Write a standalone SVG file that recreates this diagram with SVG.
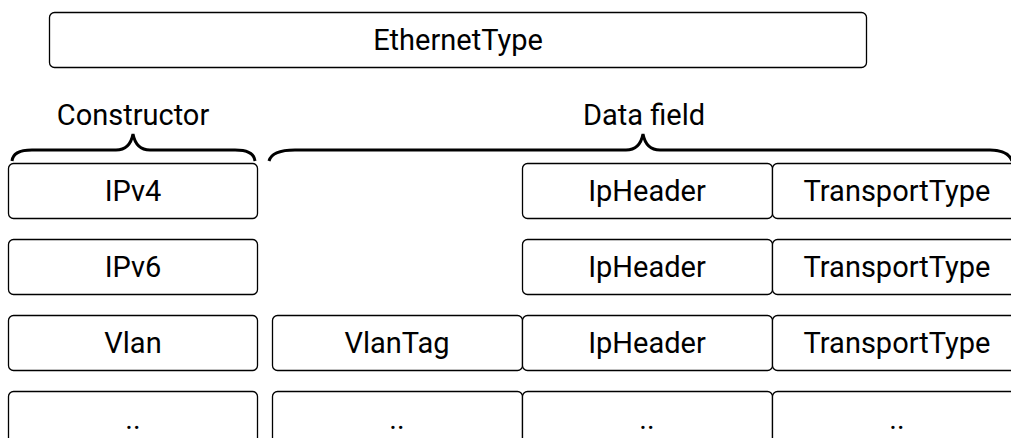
<svg xmlns="http://www.w3.org/2000/svg" width="1011" height="438" viewBox="0 0 1011 438">
<style>
.box{fill:#fff;stroke:#000;stroke-width:1.3}
.t{font-family:Roboto,"Liberation Sans",sans-serif;font-size:29px;fill:#000;text-anchor:middle;dominant-baseline:central}
.brace{fill:none;stroke:#000;stroke-width:3}
</style>
<rect width="1011" height="438" fill="#fff"/>
<g id="ethernettype"><rect class="box" x="49.5" y="12.5" width="817" height="55" rx="5"/><text class="t" x="458" y="40">EthernetType</text></g>
<g id="labels">
<text class="t" x="133" y="115">Constructor</text>
<text class="t" x="644" y="115">Data field</text>
</g>
<g id="connectors">
<path class="brace" d="M12,161 Q13,150 32,150 L116,150 Q130,150 133,134 Q136,150 150,150 L235,150 Q254,150 255,161"/>
<path class="brace" d="M269,161 Q272,150 295,150 L626,150 Q640,150 643,134 Q646,150 660,150 L990,150 Q1008,150 1012,161"/>
</g>
<g id="ipv4"><rect class="box" x="8.5" y="163.5" width="249" height="55" rx="5"/><text class="t" x="133" y="191">IPv4</text></g>
<g id="ipheader1"><rect class="box" x="522.5" y="163.5" width="250" height="55" rx="5"/><text class="t" x="647" y="191">IpHeader</text></g>
<g id="transport1"><rect class="box" x="772.5" y="163.5" width="250" height="55" rx="5"/><text class="t" x="897" y="191">TransportType</text></g>
<g id="ipv6"><rect class="box" x="8.5" y="239.5" width="249" height="55" rx="5"/><text class="t" x="133" y="267">IPv6</text></g>
<g id="ipheader2"><rect class="box" x="522.5" y="239.5" width="250" height="55" rx="5"/><text class="t" x="647" y="267">IpHeader</text></g>
<g id="transport2"><rect class="box" x="772.5" y="239.5" width="250" height="55" rx="5"/><text class="t" x="897" y="267">TransportType</text></g>
<g id="vlan"><rect class="box" x="8.5" y="315.5" width="249" height="55" rx="5"/><text class="t" x="133" y="343">Vlan</text></g>
<g id="vlantag"><rect class="box" x="272.5" y="315.5" width="250" height="55" rx="5"/><text class="t" x="397" y="343">VlanTag</text></g>
<g id="ipheader3"><rect class="box" x="522.5" y="315.5" width="250" height="55" rx="5"/><text class="t" x="647" y="343">IpHeader</text></g>
<g id="transport3"><rect class="box" x="772.5" y="315.5" width="250" height="55" rx="5"/><text class="t" x="897" y="343">TransportType</text></g>
<g id="more1"><rect class="box" x="8.5" y="391.5" width="249" height="55" rx="5"/><text class="t" x="133" y="419">..</text></g>
<g id="more2"><rect class="box" x="272.5" y="391.5" width="250" height="55" rx="5"/><text class="t" x="397" y="419">..</text></g>
<g id="more3"><rect class="box" x="522.5" y="391.5" width="250" height="55" rx="5"/><text class="t" x="647" y="419">..</text></g>
<g id="more4"><rect class="box" x="772.5" y="391.5" width="250" height="55" rx="5"/><text class="t" x="897" y="419">..</text></g>
</svg>
